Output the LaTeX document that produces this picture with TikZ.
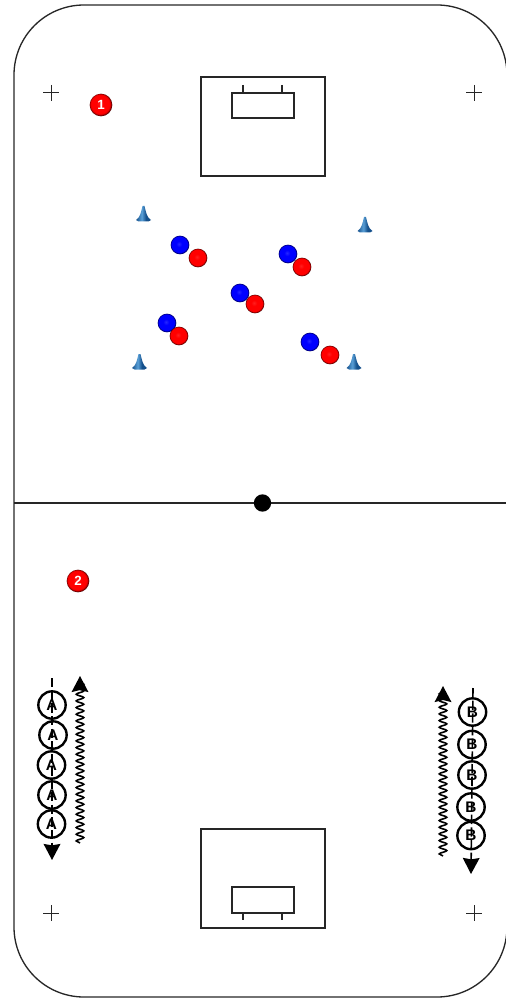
\documentclass[tikz,border=0pt]{standalone}
\usepackage{fontspec}
\setsansfont{Liberation Sans}
\usepackage{tikz}
\usetikzlibrary{
  decorations.pathmorphing,%
  arrows.meta,
  calc,
  positioning
}
\definecolor{conedark}{RGB}{20,80,140}
\definecolor{conelight}{RGB}{90,160,215}
\pgfdeclareradialshading{redball}{\pgfpoint{-3bp}{3bp}}{color(0bp)=(red!88!white); color(8bp)=(red); color(21bp)=(red); color(24bp)=(red!50!black); color(27bp)=(black); color(50bp)=(black)}
\pgfdeclareradialshading{blueball}{\pgfpoint{-3bp}{3bp}}{color(0bp)=(blue!85!white); color(8bp)=(blue); color(21bp)=(blue); color(24bp)=(blue!50!black); color(28bp)=(black!80!blue); color(50bp)=(black)}
\pgfdeclarehorizontalshading{coneshade}{50bp}{color(0bp)=(conedark); color(25bp)=(conedark); color(44bp)=(conelight); color(58bp)=(conedark); color(75bp)=(conedark); color(100bp)=(conedark)}
\tikzset{>=latex}
\tikzset{
  rinkline/.style={line width=1pt, black!85},
  goalline/.style={line width=0.9pt, black!85},
  redplayer/.style={circle, shading=redball, inner sep=0pt, minimum size=14pt},
  blueplayer/.style={circle, shading=blueball, inner sep=0pt, minimum size=14pt},
  numplayer/.style={circle, shading=redball, inner sep=0pt, minimum size=17pt,
    text=white, font=\sffamily\bfseries\fontsize{10}{10}\selectfont},
  linemate/.style={circle, draw=black, line width=1.8pt, inner sep=0pt, minimum size=20.5pt,
    font=\sffamily\bfseries\fontsize{11.5}{11.5}\selectfont},
  passline/.style={line width=1.2pt, dashed, dash pattern=on 7pt off 2.5pt,
    -{Stealth[length=12pt,width=12.5pt,inset=1pt]}},
  skateline/.style={line width=1.2pt, decorate,
    decoration={snake, segment length=5pt, amplitude=2.8pt, post length=3pt},
    -{Stealth[length=12pt,width=12.5pt,inset=1.5pt]}},
}
\begin{document}
\begin{tikzpicture}[x=0.75pt,y=-0.75pt]
  \useasboundingbox (0,0) rectangle (506,998);
  % rink and centre line
  \draw[rinkline] (14,75) arc[start angle=180, end angle=90, x radius=70, y radius=-70]
    -- (437,5) arc[start angle=90, end angle=0, x radius=70, y radius=-70]
    -- (507,927) arc[start angle=0, end angle=-90, x radius=70, y radius=-70]
    -- (84,997) arc[start angle=-90, end angle=-180, x radius=70, y radius=-70] -- cycle;
  \coordinate (midleft) at (14,503);
  \coordinate (midright) at (506,503);
  \draw[rinkline] (midleft) -- (midright);
  \node[circle, fill=black, inner sep=0pt, minimum size=13pt] (puck) at (262.5,503) {};
  % goals
  \draw[goalline] (201,77) rectangle (325,176);
  \draw[goalline] (232,93) rectangle (294,118);
  \draw[goalline] (201,829) rectangle (325,928);
  \draw[goalline] (232,887) rectangle (294,913);
  \foreach \x in {243,282} {
    \draw[goalline] (\x,85) -- (\x,93);
    \draw[goalline] (\x,913) -- (\x,920);
  }
  % crosses
  \foreach \x/\y in {51/93,474/93,51/913,474/913}
    \draw[line width=0.75pt, black!85] (\x-8,\y) -- (\x+8,\y) (\x,\y-8) -- (\x,\y+8);
  % cones
  \foreach \x/\y in {143.5/206,365/217,139.5/354,354/354}
    \shade[shading=coneshade, shift={(\x,\y)}] (-1,0) -- (1,0)
      .. controls (2.5,6) and (3,11) .. (7.5,14) -- (5,15.5) -- (-5,15.5) -- (-7.5,14)
      .. controls (-3,11) and (-2.5,6) .. (-1,0) -- cycle;
  % players
  \foreach \n/\x/\y in {a/180/245,b/288/254,c/240/293,d/167/323,e/310/342}
    \node[blueplayer] (blue\n) at (\x,\y) {};
  \foreach \n/\x/\y in {a/198/258,b/302/267,c/255/304,d/179/336,e/330/355}
    \node[redplayer] (red\n) at (\x,\y) {};
  \node[numplayer] (coach1) at (101,105) {1};
  \node[numplayer] (coach2) at (78,581) {2};
  % lines of players
  \foreach \n/\x/\y in {1/52/705,2/53/735,3/51.5/765,4/52/795,5/51.5/824}
    \node[linemate] (A\n) at (\x,\y) {A};
  \foreach \n/\x/\y in {1/472.5/712,2/472/744.5,3/472/775,4/471/807,5/471/835.5}
    \node[linemate] (B\n) at (\x,\y) {B};
  \coordinate (Atop) at (52,678);
  \coordinate (Aend) at (52,860);
  \coordinate (Btop) at (473,688);
  \coordinate (Bend) at (471,874);
  \draw[passline] (Atop) -- (Aend);
  \draw[passline] (Btop) -- (Bend);
  % skating
  \coordinate (Sastart) at (80,843);
  \coordinate (Saend) at (80,676);
  \coordinate (Sbstart) at (443,856);
  \coordinate (Sbend) at (443,686);
  \draw[skateline] (Sastart) -- (Saend);
  \draw[skateline] (Sbstart) -- (Sbend);
\end{tikzpicture}
\end{document}
